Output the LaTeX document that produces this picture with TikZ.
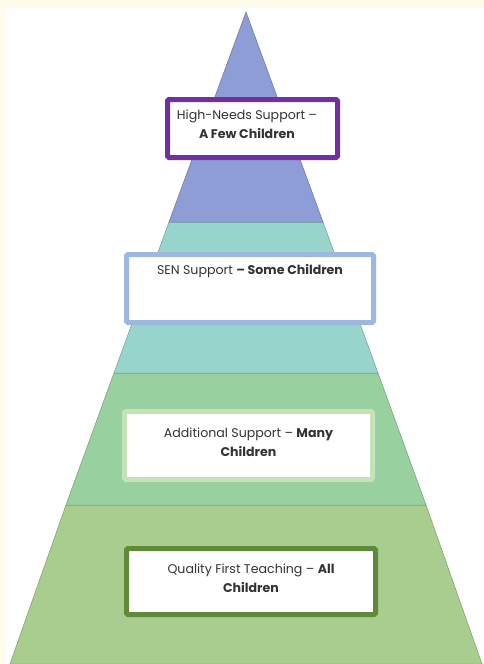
\documentclass[tikz,border=0pt]{standalone}
\usepackage{fontspec}
\setmainfont{Poppins}
\begin{document}
\begin{tikzpicture}[x=1pt,y=-1pt,
  lvlbox/.style={draw=#1, line width=5pt, fill=white, rounded corners=1.5pt},
  lbl/.style={font=\fontsize{12.6}{18.5}\selectfont, text=black!80, align=center}]
\definecolor{bg}{HTML}{FFFFFF}
\definecolor{bgy}{HTML}{FEFDEB}
\definecolor{cA}{HTML}{8E9DD6}
\definecolor{cB}{HTML}{97D4CC}
\definecolor{cC}{HTML}{99D09F}
\definecolor{cD}{HTML}{A9CD8E}
\definecolor{bA}{HTML}{7030A0}
\definecolor{bB}{HTML}{9DB8E0}
\definecolor{bC}{HTML}{C6E2B8}
\definecolor{bD}{HTML}{5E8A3A}
\fill[bg] (0,0) rectangle (484,664);
\fill[bgy] (0,0) rectangle (484,8);
\fill[bgy] (0,0) rectangle (6,664);
\useasboundingbox (0,0) rectangle (484,664);
% pyramid
\coordinate (apex) at (246,12);
\coordinate (l1) at (169,222); \coordinate (r1) at (323,222);
\coordinate (l2) at (114,373); \coordinate (r2) at (378,373);
\coordinate (l3) at (66,505);  \coordinate (r3) at (426,505);
\coordinate (l4) at (10,664);  \coordinate (r4) at (482,664);
\path[fill=cD, draw=cD!75!black, line width=0.5pt] (l3) -- (r3) -- (r4) -- (l4) -- cycle;
\path[fill=cC, draw=cC!75!black, line width=0.5pt] (l2) -- (r2) -- (r3) -- (l3) -- cycle;
\path[fill=cB, draw=cB!75!black, line width=0.5pt] (l1) -- (r1) -- (r2) -- (l2) -- cycle;
\path[fill=cA, draw=cA!75!black, line width=0.5pt] (apex) -- (r1) -- (l1) -- cycle;
% boxes
\node[lvlbox=bA, minimum width=170pt, minimum height=58pt] (hn) at (252.5,128.5) {};
\node[lbl] (hnt) at (247,124.5) {High-Needs Support –\\\textbf{A Few Children}};
\node[lvlbox=bB, minimum width=247pt, minimum height=68pt] (sen) at (250,288.5) {};
\node[lbl] (sent) at (250,271) {SEN Support \textbf{– Some Children}};
\node[lvlbox=bC, minimum width=248pt, minimum height=68pt] (add) at (248.5,445.5) {};
\node[lbl] (addt) at (248.5,442.5) {Additional Support – \textbf{Many}\\\textbf{Children}};
\node[lvlbox=bD, minimum width=249pt, minimum height=66pt] (qft) at (251,581.5) {};
\node[lbl] (qftt) at (251,578) {Quality First Teaching – \textbf{All}\\\textbf{Children}};
\end{tikzpicture}
\end{document}
